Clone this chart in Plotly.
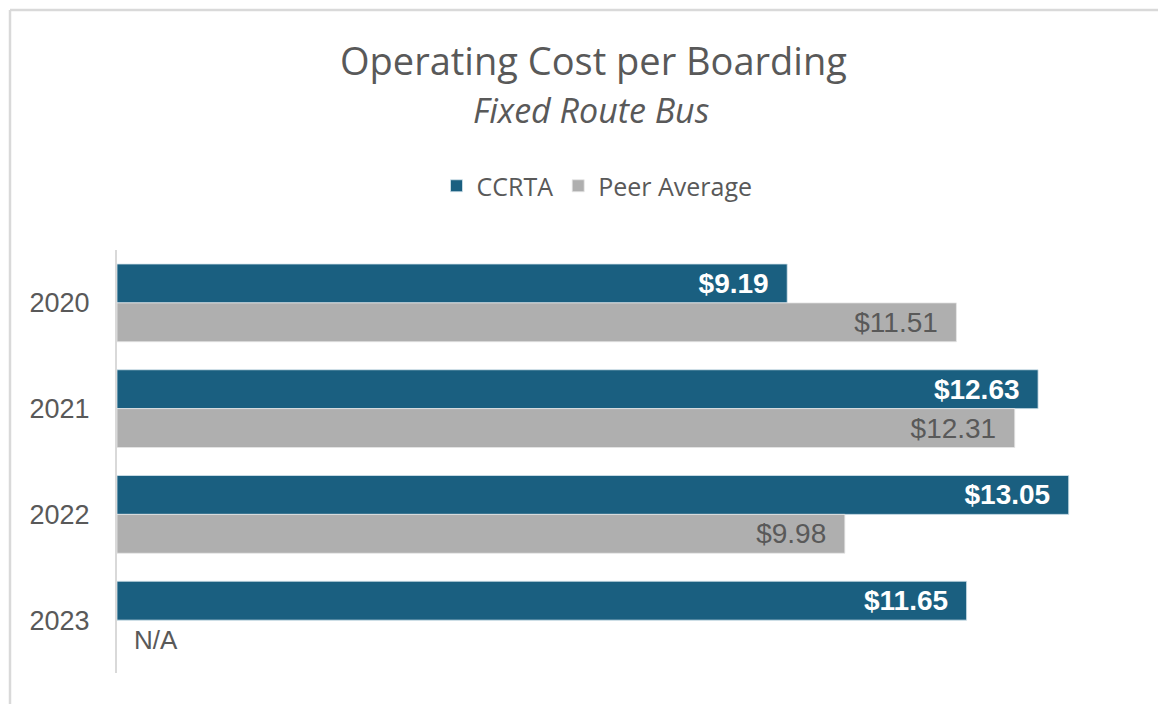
import plotly.graph_objects as go

# data
years = ["2020", "2021", "2022", "2023"]
ccrta = [9.19, 12.63, 13.05, 11.65]
peer_avg = [11.51, 12.31, 9.98, None]
missing_label = "N/A"

# page has an 8px body margin, so work in page pixels and shift
OFF = 8
W, H = 1166 - OFF, 704 - OFF
L, R, T, B = 117 - OFF, 1166 - 1138, 250 - OFF, 704 - 673
pw, ph = W - L - R, H - T - B


def px_x(p):
    return (p - OFF - L) / pw


def px_y(p):
    return (H - B - (p - OFF)) / ph


grey_txt = "#595959"
blue = "#1A5F80"
grey = "#AFAFAF"
pad = "\u00a0" * 2  # gap between label and bar end

fig = go.Figure()
fig.add_trace(go.Bar(
    y=years, x=ccrta, name="CCRTA", orientation="h",
    marker=dict(color=blue, line=dict(color="#D6E4EC", width=0.8)),
    texttemplate="<b>$%{x:.2f}</b>" + pad, textposition="inside", insidetextanchor="end",
    textfont=dict(family="Liberation Sans, Arial", size=28, color="white"),
))
fig.add_trace(go.Bar(
    y=years, x=peer_avg, name="Peer Average", orientation="h",
    marker=dict(color=grey, line=dict(color="#E6E6E6", width=0.8)),
    texttemplate="$%{x:.2f}" + pad, textposition="inside", insidetextanchor="end",
    textfont=dict(family="Liberation Sans, Arial", size=28, color=grey_txt),
))

# N/A where peer value is missing (category index, not the label)
for i, v in enumerate(peer_avg):
    if v is None:
        fig.add_annotation(x=0, y=i, xref="x", yref="y", text=missing_label,
                           showarrow=False, xanchor="left", yanchor="middle",
                           xshift=15, yshift=-20,
                           font=dict(family="Liberation Sans, Arial", size=26, color=grey_txt))

fig.add_annotation(x=px_x(593), y=px_y(60), xref="paper", yref="paper",
                   xanchor="center", yanchor="middle",
                   text="Operating Cost per Boarding", showarrow=False,
                   font=dict(family="Open Sans", size=38, color=grey_txt))
fig.add_annotation(x=px_x(591), y=px_y(110), xref="paper", yref="paper",
                   xanchor="center", yanchor="middle",
                   text="<i>Fixed Route Bus</i>", showarrow=False,
                   font=dict(family="Open Sans", size=34, color=grey_txt))

# chart border: only the top and left edges show in the crop
fig.add_shape(type="line", xref="paper", yref="paper",
              x0=px_x(10), x1=px_x(1300), y0=px_y(10), y1=px_y(10),
              line=dict(color="#D9D9D9", width=2.5), layer="below")
fig.add_shape(type="line", xref="paper", yref="paper",
              x0=px_x(10), x1=px_x(10), y0=px_y(10), y1=px_y(800),
              line=dict(color="#D9D9D9", width=2.5), layer="below")

fig.update_layout(
    width=W, height=H,
    margin=dict(l=L, r=R, t=T, b=B, autoexpand=False),
    paper_bgcolor="white", plot_bgcolor="white",
    barmode="group", bargap=0.265, bargroupgap=0,
    showlegend=True,
    legend=dict(orientation="h", x=px_x(597), xanchor="center", y=px_y(186), yanchor="middle",
                font=dict(family="Open Sans", size=25, color=grey_txt), traceorder="normal"),
    xaxis=dict(range=[0, 14], visible=False, showgrid=False, zeroline=False),
    yaxis=dict(type="category", range=[3.5, -0.5], showline=True,
               linecolor="#D9D9D9", linewidth=2,
               ticks="", ticklabelstandoff=20,
               tickfont=dict(family="Liberation Sans, Arial", size=27, color=grey_txt)),
)

fig.write_html("out.html")
